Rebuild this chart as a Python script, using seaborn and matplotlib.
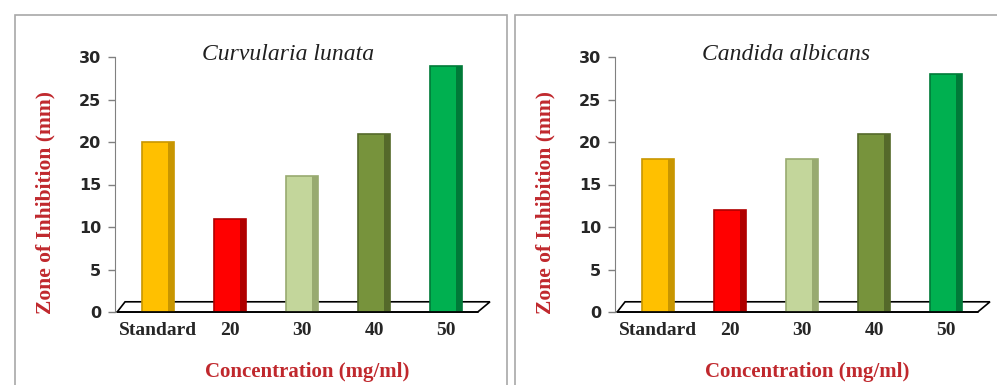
import matplotlib
matplotlib.use("Agg")
import matplotlib.pyplot as plt
import seaborn as sns
import pandas as pd
from matplotlib.patches import Rectangle, Polygon

sns.set_style("white")
plt.rcParams['font.family'] = ['Liberation Serif', 'DejaVu Sans']

# ---- data ----
categories = ["Standard", "20", "30", "40", "50"]
curvularia_values = [20, 11, 16, 21, 29]
candida_values = [18, 12, 18, 21, 28]
titles = ["Curvularia lunata", "Candida albicans"]
bar_colors = ["#FFC000", "#FF0000", "#C3D69B", "#77933C", "#00B050"]
edge_colors = ["#C89600", "#B00000", "#98AA70", "#55692A", "#007A38"]
y_ticks = [0, 5, 10, 15, 20, 25, 30]
x_label = "Concentration (mg/ml)"
y_label = "Zone of Inhibition (mm)"
label_red = "#C0282D"

W, H = 997, 385
fig = plt.figure(figsize=(W / 100, H / 100), dpi=100)

# panel frames
for (x0, x1) in [(15, 507), (515, 1010)]:
    fig.patches.append(Rectangle((x0 / W, -0.1), (x1 - x0) / W, (H - 15) / H + 0.1,
                                 transform=fig.transFigure, fill=False,
                                 edgecolor="#A8A8A8", linewidth=1.2))

panels = [(0, curvularia_values, titles[0], 0.455),
          (500, candida_values, titles[1], 0.45)]

for offset, vals, title, tx in panels:
    ax = fig.add_axes([(115 + offset) / W, (H - 312) / H, 380 / W, 255 / H])
    df = pd.DataFrame({"cat": categories, "val": vals})
    # floor (3D base)
    floor = Polygon([(-0.57, 0), (-0.46, 1.2), (4.61, 1.2), (4.44, 0)], closed=True,
                    facecolor="white", edgecolor="black", linewidth=1.2,
                    zorder=1, clip_on=False)
    ax.add_patch(floor)
    sns.barplot(data=df, x="cat", y="val", hue="cat", palette=bar_colors,
                saturation=1, legend=False, width=0.44, ax=ax, zorder=3)
    bars = [p for p in ax.patches if p is not floor]
    for p, ec in zip(bars, edge_colors):
        p.set_edgecolor(ec)
        p.set_linewidth(1.2)
        p.set_zorder(3)
        # darker side strip for a 3D look
        ax.add_patch(Rectangle((p.get_x() + p.get_width() * 0.82, 0),
                               p.get_width() * 0.18, p.get_height(),
                               facecolor=ec, edgecolor="none", zorder=3.5))
    ax.plot([-0.57, 4.44], [0, 0], color="black", lw=1.2, zorder=4, clip_on=False)
    ax.set_xlim(-0.6, 4.68)
    ax.set_ylim(0, 30)
    ax.set_yticks(y_ticks)
    ax.set_yticklabels([str(t) for t in y_ticks], fontfamily="DejaVu Sans",
                       fontweight="bold", fontsize=11.5)
    ax.set_xticks(range(len(categories)))
    ax.set_xticklabels(categories, fontweight="bold", fontsize=14)
    ax.tick_params(axis="y", length=5, width=1, color="#808080", pad=5, left=True)
    ax.tick_params(axis="x", length=0, pad=7)
    for s in ["top", "right", "bottom"]:
        ax.spines[s].set_visible(False)
    ax.spines["left"].set_color("#808080")
    ax.set_xlabel("")
    ax.set_ylabel("")
    ax.patch.set_alpha(0)
    ax.text(tx, 1.01, title, transform=ax.transAxes, ha="center", va="center",
            fontstyle="italic", fontsize=17, color="#202020")
    fig.text((45 + offset) / W, 1 - 202 / H, y_label, rotation=90, ha="center",
             va="center", fontsize=15.5, fontweight="bold", color=label_red)
    fig.text((307 + offset) / W, 1 - 372 / H, x_label, ha="center", va="center",
             fontsize=15, fontweight="bold", color=label_red)

fig.savefig("out.png", dpi=100)
